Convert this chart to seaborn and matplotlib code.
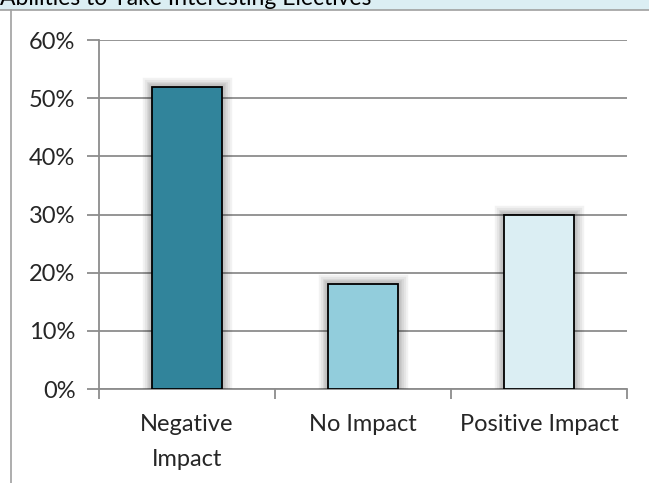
import matplotlib
matplotlib.use("Agg")
import matplotlib.pyplot as plt
import matplotlib.patheffects as pe
from matplotlib.ticker import PercentFormatter
import seaborn as sns
import pandas as pd

# data
categories = ["Negative\nImpact", "No Impact", "Positive Impact"]
shares = [52, 18, 30]
bar_colors = ["#31849b", "#92cddc", "#dbeef3"]
yticks = [0, 10, 20, 30, 40, 50, 60]
title = "Abilities to Take Interesting Electives"

df = pd.DataFrame({"category": categories, "share": shares})

sns.set_style("white")
plt.rcParams["font.family"] = ["Lato", "DejaVu Sans"]

W, H = 649, 483
fig = plt.figure(figsize=(W / 100, H / 100), dpi=100)

# light blue title strip + thin frame (title is clipped at the top, as in the source)
fig.patches.append(plt.Rectangle((0, 1 - 9.5 / H), 1, 9.5 / H, transform=fig.transFigure,
                                 facecolor="#dbeef3", edgecolor="none", zorder=0))
fig.add_artist(plt.Line2D([0, 1], [1 - 10 / H, 1 - 10 / H], transform=fig.transFigure,
                          color="#a0a0a0", lw=1.2))
fig.add_artist(plt.Line2D([11 / W, 11 / W], [0, 1 - 10 / H], transform=fig.transFigure,
                          color="#a0a0a0", lw=1.2))
fig.text(0, 1 - 5 / H, title, fontsize=16.5, va="baseline", ha="left", color="black")

# axes region in pixels: x 99..627, y 40..389
ax = fig.add_axes([99 / W, 1 - 389 / H, (627 - 99) / W, (389 - 40) / H])

sns.barplot(data=df, x="category", y="share", hue="category", palette=bar_colors,
            saturation=1, width=0.4, edgecolor="black", linewidth=1.3, legend=False,
            ax=ax, zorder=3)

# soft shadow around bars
shadow = [pe.Stroke(linewidth=w, foreground="#000000", alpha=0.05) for w in (14, 11, 8, 6, 4)]
for p in ax.patches:
    p.set_path_effects(shadow + [pe.Normal()])

ax.set_ylim(0, 60)
ax.set_xlim(-0.5, 2.5)
ax.set_yticks(yticks)
ax.yaxis.set_major_formatter(PercentFormatter(decimals=0))
ax.yaxis.grid(True, color="#8c8c8c", lw=1.3, zorder=0)
ax.set_axisbelow(True)
ax.set_xlabel("")
ax.set_ylabel("")

for s in ["top", "right"]:
    ax.spines[s].set_visible(False)
for s in ["left", "bottom"]:
    ax.spines[s].set_color("#8c8c8c")
    ax.spines[s].set_linewidth(1.3)

# x ticks at category boundaries, labels centered
ax.set_xticks([-0.5, 0.5, 1.5, 2.5])
ax.set_xticklabels([])
ax.set_xticks([0, 1, 2], minor=True)
ax.set_xticklabels(categories, minor=True, fontsize=17, linespacing=1.8)
ax.tick_params(axis="x", which="major", direction="out", length=7, width=1.3,
               color="#8c8c8c", bottom=True)
ax.tick_params(axis="x", which="minor", length=0, pad=18)
ax.tick_params(axis="y", direction="out", length=9, width=1.3, color="#8c8c8c",
               left=True, labelsize=17, pad=8)

fig.savefig("out.png", dpi=100)
